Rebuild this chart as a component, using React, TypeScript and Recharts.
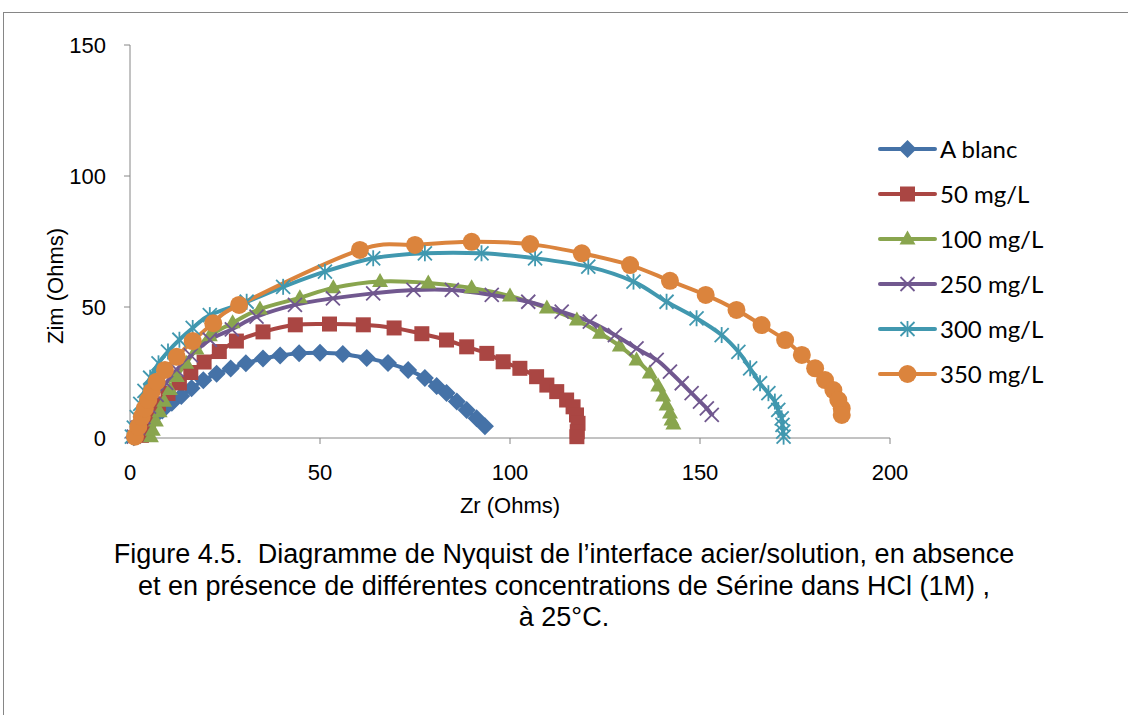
import React from "react";
import { ComposedChart, Line, XAxis, YAxis, Legend, Label } from "recharts";

// Nyquist data, [Zr, Zim] in Ohms
const blanc: [number, number][] = [
  [1, 0.3], [2.5, 2.5], [4, 5], [6, 7.5], [8.5, 10.5], [11, 13.5], [13.5, 16],
  [16.2, 19], [19.3, 22], [22.8, 24.5], [26.5, 26.5], [30.5, 28.5], [35, 30.3],
  [39.5, 31.5], [44.5, 32.3], [50, 32.5], [56, 32.1], [62.3, 30.5], [67.9, 28.6],
  [73.2, 26], [77.6, 22.9], [80.7, 19.8], [83.3, 17.2], [86, 13.9], [88.6, 10.7],
  [91.2, 7.5], [93.4, 4.5],
];
const c50: [number, number][] = [
  [3, 1], [4, 5], [5.5, 9], [7.5, 13], [10, 17], [13, 21], [16, 25], [19.5, 29],
  [23.5, 33], [28, 37], [35, 40.5], [43.5, 43.2], [52.5, 43.5], [61.4, 43.2],
  [69.5, 42], [76.8, 39.8], [83.3, 37.4], [88.6, 34.8], [93.9, 32.3], [98.2, 29.1],
  [102.6, 26.6], [107, 23.4], [109.7, 20.2], [112.3, 17.7], [114.9, 14.5],
  [116.6, 11.9], [117.5, 8.8], [117.9, 5.6], [117.7, 2.4], [117.6, 0.5],
];
const c100: [number, number][] = [
  [5.5, 0.5], [6, 3], [6.8, 6.5], [7.8, 10], [9, 14], [10.5, 18.5], [12.3, 23.5],
  [14.8, 28.5], [17.5, 34], [21, 39], [27, 44], [34.2, 49.2], [44.7, 53.5],
  [53.5, 57.3], [65.8, 59.7], [78.5, 59.2], [89.9, 57.3], [100, 54.2], [109.7, 49.6],
  [117.6, 45], [123.7, 40], [128.9, 35.1], [133.3, 29.8], [136.8, 24.8], [139, 19.8],
  [140.3, 16], [141.2, 12.6], [142.1, 9.5], [142.5, 6.9], [143, 5.3],
];
const c250: [number, number][] = [
  [1, 0.5], [2, 4], [3.5, 8], [5, 12], [7, 16.5], [9.5, 21], [12.3, 26], [16, 31.5],
  [21, 37.5], [26.8, 41.5], [33.3, 46.3], [43.4, 50.8], [53.4, 53.3], [64, 55.2],
  [74.6, 56.5], [84.7, 56.5], [95.2, 54.6], [104.8, 52], [113.6, 48.2], [121, 44.4],
  [127.6, 39.3], [133.3, 34.2], [138.6, 29.8], [142.1, 25.3], [145.2, 20.9],
  [147.8, 17.1], [150, 13.9], [151.8, 11.3], [153.1, 8.8],
];
const c300: [number, number][] = [
  [0.5, 0.5], [1, 4], [1.8, 8], [2.7, 13], [3.8, 18], [5.3, 23], [7.5, 28.5],
  [10, 33], [13, 37.5], [16.5, 42], [21, 46.9], [30.7, 52], [40.3, 57.7],
  [51.3, 63.5], [64, 68.6], [77.6, 70.5], [92.5, 70.5], [106.6, 68.6], [120.6, 65.4],
  [132.5, 59.7], [141.2, 52], [149.1, 45.7], [155.7, 39.3], [160.1, 32.9],
  [163.2, 26.6], [165.8, 20.9], [168, 17.1], [169.7, 13.9], [170.6, 10.7],
  [171.5, 7.5], [171.7, 5], [171.9, 2.4], [172, 0.5],
];
const c350: [number, number][] = [
  [1.3, 0.5], [2.2, 4.3], [3.1, 8.1], [3.9, 11.3], [4.8, 14.5], [5.7, 17.7],
  [7, 21.5], [9.2, 26], [12.3, 31], [16.5, 37], [21.9, 43.8], [28.7, 50.8],
  [60.5, 71.8], [75, 73.7], [89.9, 74.9], [105.3, 74], [118.9, 70.5], [131.6, 66],
  [142.1, 60], [151.5, 54.6], [159.6, 48.9], [166.2, 43.1], [172.4, 37.4],
  [176.8, 31.7], [180.3, 26.6], [182.9, 22.1], [185.1, 18.3], [186.4, 14.5],
  [187.3, 11.3], [187.3, 8.8],
];

const xTicks = [0, 50, 100, 150, 200];
const yTicks = [0, 50, 100, 150];

type Shape = "diamond" | "square" | "triangle" | "x" | "star" | "circle";

const series: { name: string; color: string; shape: Shape; points: [number, number][] }[] = [
  { name: "A blanc", color: "#4572A7", shape: "diamond", points: blanc },
  { name: "50 mg/L", color: "#AA4643", shape: "square", points: c50 },
  { name: "100 mg/L", color: "#89A54E", shape: "triangle", points: c100 },
  { name: "250 mg/L", color: "#71588F", shape: "x", points: c250 },
  { name: "300 mg/L", color: "#4198AF", shape: "star", points: c300 },
  { name: "350 mg/L", color: "#DB843D", shape: "circle", points: c350 },
];

// Excel-like smoothed line (Catmull-Rom as cubic Bezier)
function excelSmooth(context: any) {
  let pts: number[][] = [];
  return {
    areaStart() {},
    areaEnd() {},
    lineStart() {
      pts = [];
    },
    point(x: number, y: number) {
      pts.push([+x, +y]);
    },
    lineEnd() {
      const n = pts.length;
      if (!n) return;
      context.moveTo(pts[0][0], pts[0][1]);
      for (let i = 0; i < n - 1; i++) {
        const p0 = pts[Math.max(i - 1, 0)];
        const p1 = pts[i];
        const p2 = pts[i + 1];
        const p3 = pts[Math.min(i + 2, n - 1)];
        context.bezierCurveTo(
          p1[0] + (p2[0] - p0[0]) / 6,
          p1[1] + (p2[1] - p0[1]) / 6,
          p2[0] - (p3[0] - p1[0]) / 6,
          p2[1] - (p3[1] - p1[1]) / 6,
          p2[0],
          p2[1]
        );
      }
    },
  };
}

function Marker({ shape, color, cx, cy }: { shape: Shape; color: string; cx: number; cy: number }) {
  switch (shape) {
    case "diamond":
      return (
        <polygon
          points={`${cx},${cy - 9} ${cx + 9},${cy} ${cx},${cy + 9} ${cx - 9},${cy}`}
          fill={color}
        />
      );
    case "square":
      return <rect x={cx - 7.5} y={cy - 7.5} width={15} height={15} fill={color} />;
    case "triangle":
      return (
        <polygon
          points={`${cx},${cy - 8.5} ${cx + 8},${cy + 5.5} ${cx - 8},${cy + 5.5}`}
          fill={color}
        />
      );
    case "x":
      return (
        <g stroke={color} strokeWidth={1.8}>
          <line x1={cx - 7} y1={cy - 7} x2={cx + 7} y2={cy + 7} />
          <line x1={cx - 7} y1={cy + 7} x2={cx + 7} y2={cy - 7} />
        </g>
      );
    case "star":
      return (
        <g stroke={color} strokeWidth={1.8}>
          <line x1={cx - 7} y1={cy - 7} x2={cx + 7} y2={cy + 7} />
          <line x1={cx - 7} y1={cy + 7} x2={cx + 7} y2={cy - 7} />
          <line x1={cx} y1={cy - 8} x2={cx} y2={cy + 8} />
        </g>
      );
    default:
      return <circle cx={cx} cy={cy} r={9} fill={color} />;
  }
}

const axisFont = "'Liberation Sans', Arial, sans-serif";
const legendFont = "Lato, 'Open Sans', sans-serif";

function LegendBox({ payload }: any) {
  const names = (payload || []).map((p: any) => p.value);
  return (
    <div style={{ fontFamily: legendFont, fontSize: 24, color: "#000" }}>
      {series
        .filter((s) => names.includes(s.name))
        .map((s) => (
          <div key={s.name} style={{ display: "flex", alignItems: "center", height: 45 }}>
            <svg width={60} height={24} style={{ display: "block" }}>
              <line x1={2} y1={12} x2={57} y2={12} stroke={s.color} strokeWidth={4} strokeLinecap="round" />
              <Marker shape={s.shape} color={s.color} cx={29.5} cy={12} />
            </svg>
            <span style={{ marginLeft: 2 }}>{s.name}</span>
          </div>
        ))}
    </div>
  );
}

export default function App() {
  return (
    <div style={{ position: "absolute", left: 0, top: 0, width: 1129, height: 715, background: "#fff" }}>
      <div
        style={{
          position: "absolute",
          left: 3,
          top: 12,
          width: 1124,
          height: 702,
          borderTop: "1px solid #868686",
          borderLeft: "1px solid #868686",
        }}
      />
      <div style={{ position: "absolute", left: 0, top: 0 }}>
        <ComposedChart width={1129} height={715} margin={{ top: 45, right: 239, left: 70, bottom: 237 }}>
          <XAxis
            dataKey="zr"
            type="number"
            domain={[0, 200]}
            ticks={xTicks}
            height={40}
            stroke="#868686"
            tickSize={6}
            tickMargin={20}
            tick={{ fill: "#000", fontSize: 22, fontFamily: axisFont }}
          >
            <Label
              content={() => (
                <text x={510} y={513} textAnchor="middle" fontSize={22} fontFamily={axisFont} fill="#000">
                  Zr (Ohms)
                </text>
              )}
            />
          </XAxis>
          <YAxis
            type="number"
            domain={[0, 150]}
            ticks={yTicks}
            width={60}
            stroke="#868686"
            tickSize={6}
            tickMargin={18}
            tick={{ fill: "#000", fontSize: 22, fontFamily: axisFont }}
          >
            <Label
              content={() => (
                <text
                  x={63}
                  y={286}
                  transform="rotate(-90 63 286)"
                  textAnchor="middle"
                  fontSize={22}
                  fontFamily={axisFont}
                  fill="#000"
                >
                  Zim (Ohms)
                </text>
              )}
            />
          </YAxis>
          <Legend
            layout="vertical"
            align="center"
            verticalAlign="middle"
            wrapperStyle={{ left: 878, top: 126, width: 240, height: 280 }}
            content={<LegendBox />}
          />
          {series.map((s) => (
            <Line
              key={s.name}
              name={s.name}
              data={s.points.map(([zr, zim]) => ({ zr, zim }))}
              dataKey="zim"
              type={excelSmooth as any}
              stroke={s.color}
              strokeWidth={4}
              dot={(p: any) => (
                <Marker key={`${s.name}-${p.index}`} shape={s.shape} color={s.color} cx={p.cx} cy={p.cy} />
              )}
              activeDot={false}
              isAnimationActive={false}
            />
          ))}
        </ComposedChart>
      </div>
      <div
        style={{
          position: "absolute",
          left: 0,
          top: 539,
          width: 1128,
          textAlign: "center",
          fontFamily: axisFont,
          fontSize: 27,
          lineHeight: "31.5px",
          color: "#000",
        }}
      >
        <div>Figure 4.5.&nbsp; Diagramme de Nyquist de l’interface acier/solution, en absence</div>
        <div>et en présence de différentes concentrations de Sérine dans HCl (1M) ,</div>
        <div>à 25°C.</div>
      </div>
    </div>
  );
}
